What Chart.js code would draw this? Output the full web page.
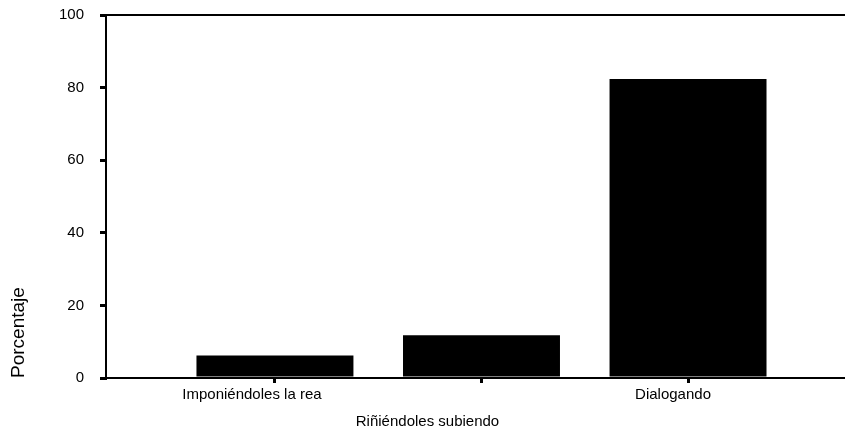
<!DOCTYPE html>
<html lang="es">
<head>
    <meta charset="UTF-8">
    <title>Porcentaje</title>
    <script src="https://cdn.jsdelivr.net/npm/chart.js"></script>
    <style>
        html, body { margin: 0; padding: 0; background: #fff; overflow: hidden; }
        #wrap { width: 845px; height: 430px; }
    </style>
</head>
<body>
    <div id="wrap"><canvas id="chart"></canvas></div>

    <script>
        // Data
        const categories = ['Imponiéndoles la rea', 'Riñiéndoles subiendo', 'Dialogando'];
        const percentages = [6.2, 11.8, 82.4];
        const yTicks = [0, 20, 40, 60, 80, 100];

        // Label placement (the labels sit slightly left of their bars, second one on a lower row)
        const labelShift = [-23, -54, -15];
        const labelRow = [0, 1, 0];

        const font = "'Liberation Sans', Arial, sans-serif";

        const categoryLabels = {
            id: 'categoryLabels',
            afterDraw(chart) {
                const ctx = chart.ctx;
                const x = chart.scales.x;
                ctx.save();
                ctx.font = '15px ' + font;
                ctx.fillStyle = '#000';
                ctx.textAlign = 'center';
                ctx.textBaseline = 'middle';
                categories.forEach((c, i) => {
                    const px = x.getPixelForValue(i) + labelShift[i];
                    const py = x.top + 17 + labelRow[i] * 27;
                    ctx.fillText(c, px, py);
                });
                ctx.restore();
            }
        };

        new Chart(document.getElementById('chart'), {
            type: 'bar',
            data: {
                datasets: [{
                    data: percentages.map((v, i) => ({ x: i, y: v })),
                    backgroundColor: '#000',
                    borderWidth: 0,
                    categoryPercentage: 1,
                    barPercentage: 0.76
                }]
            },
            options: {
                responsive: true,
                maintainAspectRatio: false,
                animation: false,
                layout: { padding: 0 },
                plugins: {
                    legend: { display: false },
                    tooltip: { enabled: false }
                },
                scales: {
                    x: {
                        type: 'linear',
                        position: 'bottom',
                        offset: false,
                        min: -0.818,
                        max: 2.76,
                        afterBuildTicks: s => { s.ticks = categories.map((c, i) => ({ value: i })); },
                        afterFit: s => {
                            s.height = 52;
                            s.paddingLeft = 0;
                            s.paddingRight = 0;
                        },
                        ticks: { display: false },
                        grid: {
                            offset: false,
                            drawOnChartArea: false,
                            drawTicks: true,
                            tickLength: 5,
                            lineWidth: 3,
                            color: '#000'
                        },
                        border: { display: true, color: '#000', width: 2 }
                    },
                    x2: {
                        type: 'linear',
                        position: 'top',
                        offset: false,
                        min: 0,
                        max: 1,
                        afterFit: s => {
                            s.height = 15;
                            s.paddingLeft = 0;
                            s.paddingRight = 0;
                        },
                        ticks: { display: false },
                        grid: { display: false, drawTicks: false },
                        border: { display: true, color: '#000', width: 2 }
                    },
                    y: {
                        min: 0,
                        max: 100,
                        afterBuildTicks: s => { s.ticks = yTicks.map(v => ({ value: v })); },
                        afterFit: s => {
                            s.width = 106;
                            s.paddingTop = 0;
                            s.paddingBottom = 0;
                        },
                        ticks: {
                            color: '#000',
                            padding: 16,
                            font: { family: font, size: 15 }
                        },
                        grid: {
                            drawOnChartArea: false,
                            drawTicks: true,
                            tickLength: 6,
                            lineWidth: 3,
                            color: '#000'
                        },
                        border: { display: true, color: '#000', width: 2 },
                        title: {
                            display: true,
                            text: 'Porcentaje',
                            align: 'start',
                            color: '#000',
                            font: { family: font, size: 19 },
                            padding: { top: 7, bottom: 0 }
                        }
                    }
                }
            },
            plugins: [categoryLabels]
        });
    </script>
</body>
</html>
